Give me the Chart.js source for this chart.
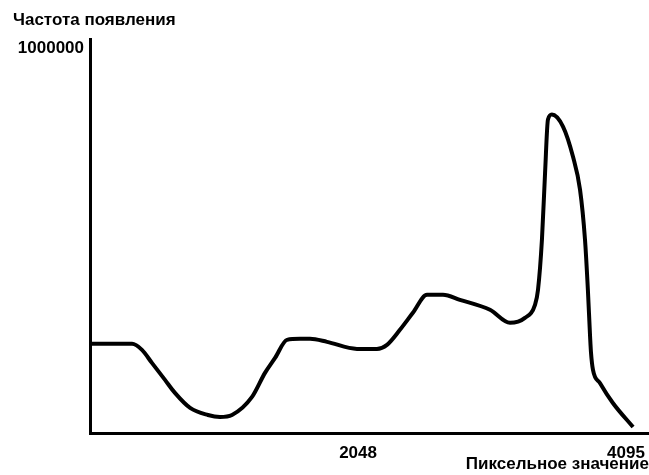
<!DOCTYPE html>
<html>
<head>
<meta charset="utf-8">
<script src="https://cdn.jsdelivr.net/npm/chart.js@4/dist/chart.umd.min.js"></script>
<style>
  html, body { margin: 0; padding: 0; background: #fff; overflow: hidden; }
  #wrap { width: 649px; height: 475px; }
</style>
</head>
<body>
<div id="wrap"><canvas id="histogram"></canvas></div>
<script>
  // pixel value (x) and frequency (y)
  var pixelValues = [0, 321, 397, 473, 573, 649, 765, 901, 993, 1085, 1238, 1337, 1414, 1505,
    1605, 1681, 1811, 2040, 2192, 2269, 2368, 2467, 2575, 2697, 2826, 3056, 3209, 3323,
    3400, 3423, 3453, 3477, 3499, 3529, 3614, 3690, 3744, 3782, 3804, 3821, 3828, 3843,
    3896, 3995, 4149];
  var frequencies = [226500, 226500, 211200, 178100, 134900, 101800, 63600, 45800, 40700,
    45800, 91600, 152700, 190800, 236600, 239200, 239200, 231600, 213700, 213700, 223900,
    262100, 305300, 351100, 351100, 338400, 313000, 279900, 292600, 325700, 363900, 491100,
    661600, 796400, 809200, 778600, 702300, 618300, 491100, 363900, 244300, 203600, 160300,
    127200, 76300, 15300];
  var xTicks = [2048, 4095];
  var yTicks = [1000000];

  var points = pixelValues.map(function (v, i) {
    return { x: v, y: frequencies[i] };
  });

  var boldFont = { family: "'Liberation Sans', Arial, sans-serif", size: 17, weight: 'bold' };

  function plainLabel(value) { return String(value); }

  new Chart(document.getElementById('histogram'), {
    type: 'line',
    data: {
      datasets: [{
        data: points,
        borderColor: '#000',
        borderWidth: 4,
        pointRadius: 0,
        fill: false,
        cubicInterpolationMode: 'monotone'
      }]
    },
    options: {
      responsive: true,
      maintainAspectRatio: false,
      animation: false,
      layout: { padding: { left: 13, right: 0, top: 0, bottom: 0 } },
      plugins: {
        legend: { display: false },
        tooltip: { enabled: false },
        title: {
          display: true,
          text: 'Частота появления',
          align: 'start',
          color: '#000',
          font: boldFont,
          padding: { top: 10, bottom: 9 }
        }
      },
      scales: {
        x: {
          type: 'linear',
          min: 0,
          max: 4271,
          afterBuildTicks: function (scale) {
            scale.ticks = xTicks.map(function (v) { return { value: v }; });
          },
          afterFit: function (scale) {
            scale.height = 42;
            scale.paddingLeft = 0;
            scale.paddingRight = 0;
          },
          grid: { display: false, drawTicks: false },
          border: { display: true, color: '#000', width: 3 },
          ticks: { color: '#000', font: boldFont, padding: 10, maxRotation: 0, callback: plainLabel },
          title: {
            display: true,
            text: 'Пиксельное значение',
            align: 'end',
            color: '#000',
            font: boldFont,
            padding: { top: 0, bottom: 0 }
          }
        },
        y: {
          min: 0,
          max: 1000000,
          afterBuildTicks: function (scale) {
            scale.ticks = yTicks.map(function (v) { return { value: v }; });
          },
          afterFit: function (scale) {
            scale.width = 77;
            scale.paddingTop = 0;
            scale.paddingBottom = 0;
          },
          grid: { display: false, drawTicks: false },
          border: { display: true, color: '#000', width: 3 },
          ticks: { color: '#000', font: boldFont, padding: 6, labelOffset: 9, callback: plainLabel }
        }
      }
    }
  });
</script>
</body>
</html>
